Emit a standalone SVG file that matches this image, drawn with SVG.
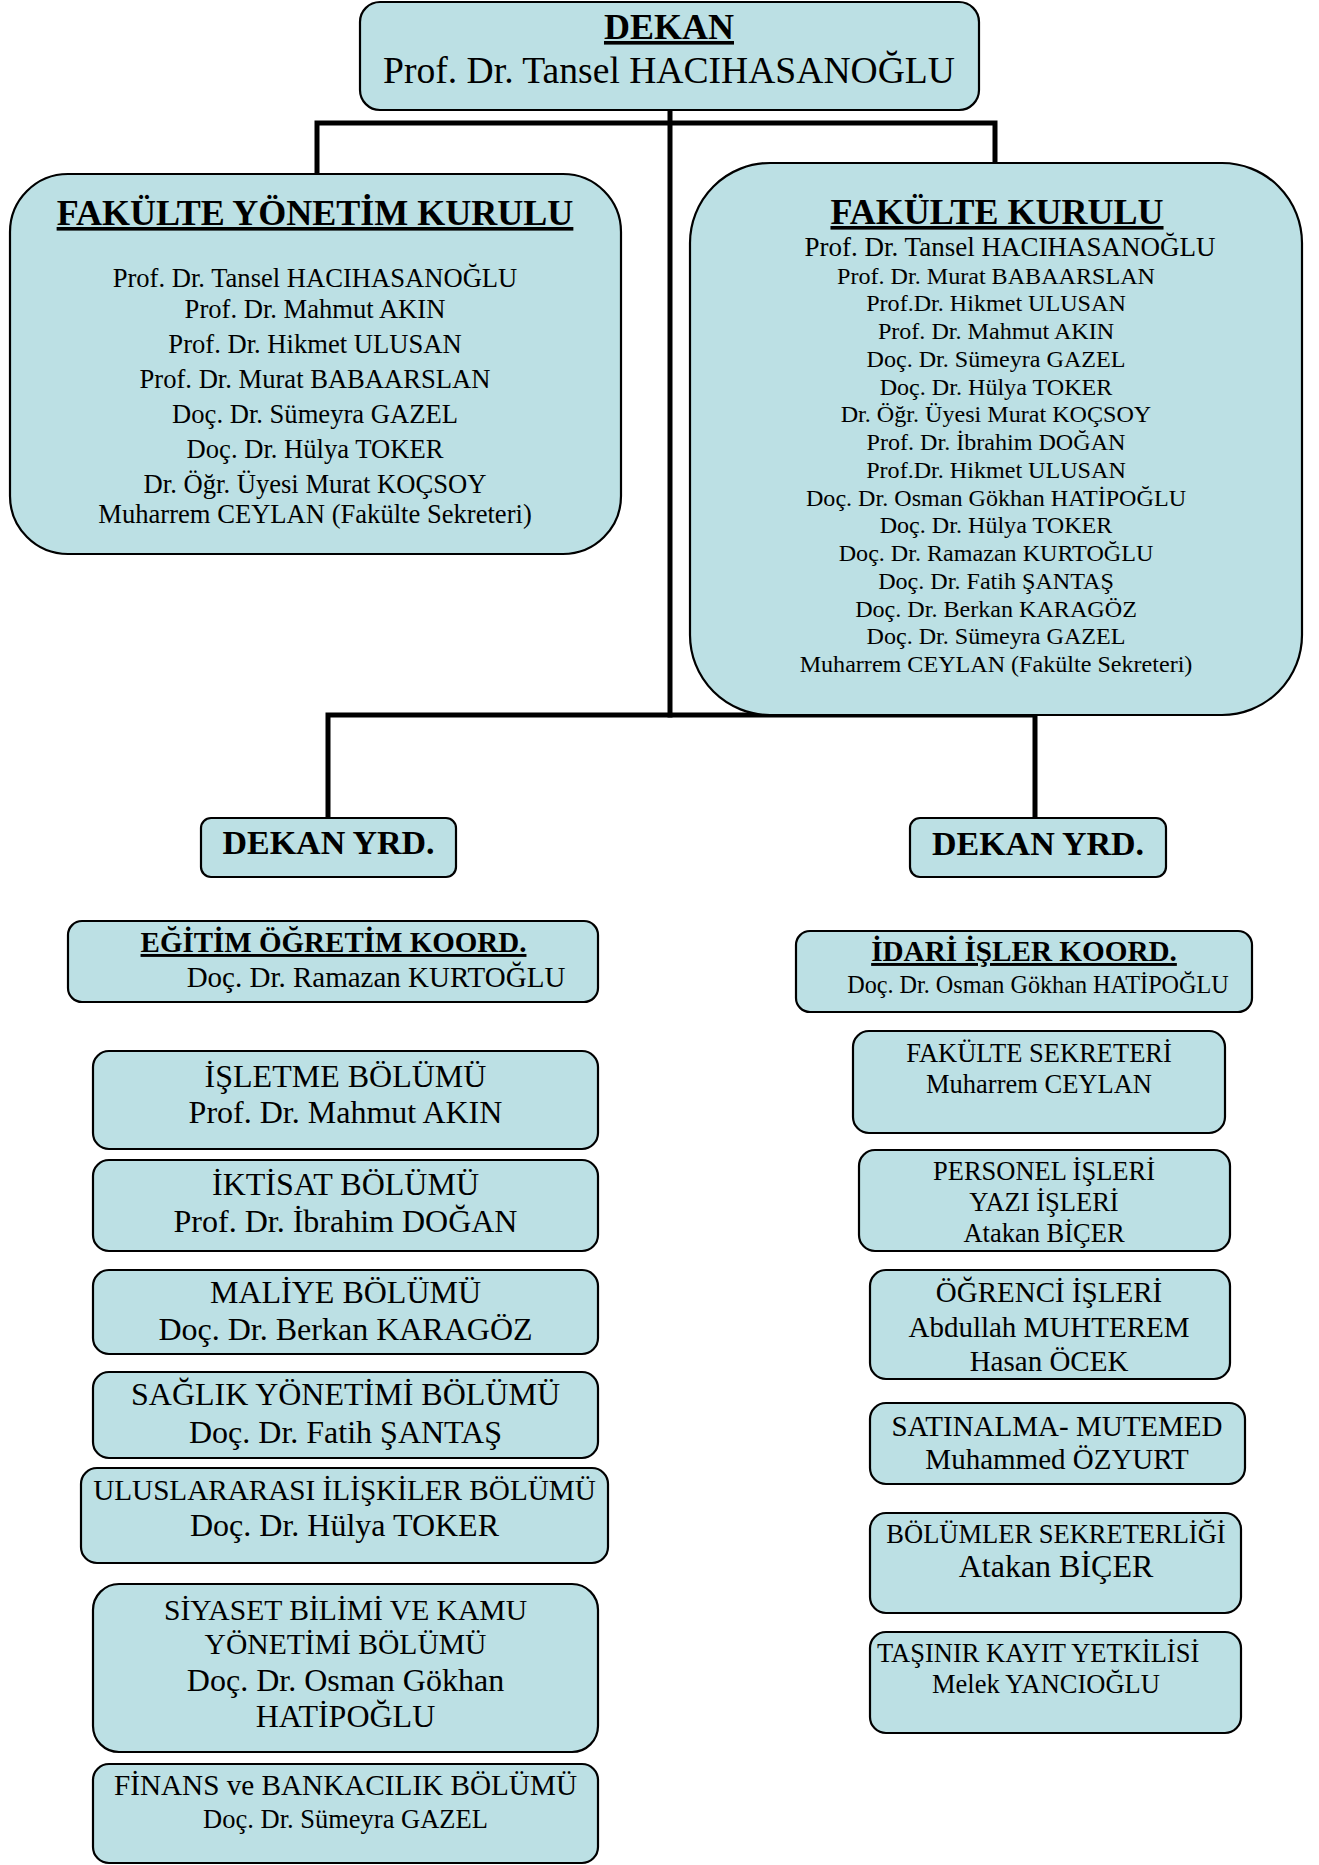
<svg xmlns="http://www.w3.org/2000/svg" width="1319" height="1865" viewBox="0 0 1319 1865">
<style>
.box{fill:#BCE0E4;stroke:#000;stroke-width:2.2}
.t{font-family:"Liberation Serif","Times New Roman",serif;fill:#000;text-anchor:middle}
.s{text-anchor:start}
.b{font-weight:bold}
.u{text-decoration:underline}
.conn{stroke:#000;stroke-width:5;fill:none;stroke-linecap:square}
</style>
<rect width="1319" height="1865" fill="#fff"/>
<g id="connectors">
<line class="conn" x1="670" y1="110" x2="670" y2="715"/>
<polyline class="conn" points="317,175 317,123 995,123 995,163"/>
<polyline class="conn" points="328,818 328,715 1035,715 1035,818"/>
</g>
<g id="dekan">
<rect class="box" x="360" y="2" width="619" height="108" rx="20"/>
<text class="t b u" x="669" y="39" font-size="36">DEKAN</text>
<text class="t" x="669" y="83" font-size="37.6">Prof. Dr. Tansel HACIHASANOĞLU</text>
</g>
<g id="fyk">
<rect class="box" x="10" y="174" width="611" height="380" rx="58"/>
<text class="t b u" x="315" y="225" font-size="36">FAKÜLTE YÖNETİM KURULU</text>
<g class="t" font-size="26.6">
<text x="315" y="287">Prof. Dr. Tansel HACIHASANOĞLU</text>
<text x="315" y="318">Prof. Dr. Mahmut AKIN</text>
<text x="315" y="353">Prof. Dr. Hikmet ULUSAN</text>
<text x="315" y="388">Prof. Dr. Murat BABAARSLAN</text>
<text x="315" y="423">Doç. Dr. Sümeyra GAZEL</text>
<text x="315" y="458">Doç. Dr. Hülya TOKER</text>
<text x="315" y="493">Dr. Öğr. Üyesi Murat KOÇSOY</text>
<text x="315" y="523">Muharrem CEYLAN (Fakülte Sekreteri)</text>
</g>
</g>
<g id="fk">
<rect class="box" x="690" y="163" width="612" height="552" rx="80"/>
<text class="t b u" x="997" y="224" font-size="36">FAKÜLTE KURULU</text>
<g class="t" font-size="24.1">
<text x="1010" y="256" font-size="27">Prof. Dr. Tansel HACIHASANOĞLU</text>
<text x="996" y="284">Prof. Dr. Murat BABAARSLAN</text>
<text x="996" y="311">Prof.Dr. Hikmet ULUSAN</text>
<text x="996" y="339">Prof. Dr. Mahmut AKIN</text>
<text x="996" y="367">Doç. Dr. Sümeyra GAZEL</text>
<text x="996" y="395">Doç. Dr. Hülya TOKER</text>
<text x="996" y="422">Dr. Öğr. Üyesi Murat KOÇSOY</text>
<text x="996" y="450">Prof. Dr. İbrahim DOĞAN</text>
<text x="996" y="478">Prof.Dr. Hikmet ULUSAN</text>
<text x="996" y="506">Doç. Dr. Osman Gökhan HATİPOĞLU</text>
<text x="996" y="533">Doç. Dr. Hülya TOKER</text>
<text x="996" y="561">Doç. Dr. Ramazan KURTOĞLU</text>
<text x="996" y="589">Doç. Dr. Fatih ŞANTAŞ</text>
<text x="996" y="617">Doç. Dr. Berkan KARAGÖZ</text>
<text x="996" y="644">Doç. Dr. Sümeyra GAZEL</text>
<text x="996" y="672">Muharrem CEYLAN (Fakülte Sekreteri)</text>
</g>
</g>
<g id="dekan-yrd-1">
<rect class="box" x="201" y="818" width="255" height="59" rx="10"/>
<text class="t b" x="328.5" y="854" font-size="34">DEKAN YRD.</text>
</g>
<g id="dekan-yrd-2">
<rect class="box" x="910" y="818" width="256" height="59" rx="10"/>
<text class="t b" x="1038" y="855" font-size="34">DEKAN YRD.</text>
</g>
<g id="egitim">
<rect class="box" x="68" y="921" width="530" height="81" rx="14"/>
<text class="t b u" x="333.5" y="952" font-size="29">EĞİTİM ÖĞRETİM KOORD.</text>
<text class="t" x="376" y="987" font-size="29">Doç. Dr. Ramazan KURTOĞLU</text>
</g>
<g id="isletme">
<rect class="box" x="93" y="1051" width="505" height="98" rx="16"/>
<text class="t" x="345.5" y="1087" font-size="32">İŞLETME BÖLÜMÜ</text>
<text class="t" x="345.5" y="1123" font-size="32">Prof. Dr. Mahmut AKIN</text>
</g>
<g id="iktisat">
<rect class="box" x="93" y="1160" width="505" height="91" rx="16"/>
<text class="t" x="345.5" y="1195" font-size="32">İKTİSAT BÖLÜMÜ</text>
<text class="t" x="345.5" y="1232" font-size="32">Prof. Dr. İbrahim DOĞAN</text>
</g>
<g id="maliye">
<rect class="box" x="93" y="1270" width="505" height="84" rx="16"/>
<text class="t" x="345.5" y="1303" font-size="32">MALİYE BÖLÜMÜ</text>
<text class="t" x="345.5" y="1340" font-size="32">Doç. Dr. Berkan KARAGÖZ</text>
</g>
<g id="saglik">
<rect class="box" x="93" y="1372" width="505" height="86" rx="16"/>
<text class="t" x="345.5" y="1405" font-size="32">SAĞLIK YÖNETİMİ BÖLÜMÜ</text>
<text class="t" x="345.5" y="1443" font-size="32">Doç. Dr. Fatih ŞANTAŞ</text>
</g>
<g id="uluslararasi">
<rect class="box" x="81" y="1468" width="527" height="95" rx="16"/>
<text class="t" x="344.5" y="1500" font-size="29.2">ULUSLARARASI İLİŞKİLER BÖLÜMÜ</text>
<text class="t" x="344.5" y="1536" font-size="32">Doç. Dr. Hülya TOKER</text>
</g>
<g id="siyaset">
<rect class="box" x="93" y="1584" width="505" height="168" rx="26"/>
<text class="t" x="345.5" y="1620" font-size="29.6">SİYASET BİLİMİ VE KAMU</text>
<text class="t" x="345.5" y="1654" font-size="29.6">YÖNETİMİ BÖLÜMÜ</text>
<text class="t" x="345.5" y="1691" font-size="32">Doç. Dr. Osman Gökhan</text>
<text class="t" x="345.5" y="1727" font-size="32">HATİPOĞLU</text>
</g>
<g id="finans">
<rect class="box" x="93" y="1764" width="505" height="99" rx="16"/>
<text class="t" x="345.5" y="1795" font-size="29.2">FİNANS ve BANKACILIK BÖLÜMÜ</text>
<text class="t" x="345.5" y="1828" font-size="26.5">Doç. Dr. Sümeyra GAZEL</text>
</g>
<g id="idari">
<rect class="box" x="796" y="931" width="456" height="81" rx="14"/>
<text class="t b u" x="1024" y="961" font-size="29.2">İDARİ İŞLER KOORD.</text>
<text class="t" x="1038" y="993" font-size="24.2">Doç. Dr. Osman Gökhan HATİPOĞLU</text>
</g>
<g id="fakulte-sekreteri">
<rect class="box" x="853" y="1031" width="372" height="102" rx="16"/>
<text class="t" x="1039" y="1062" font-size="26.5">FAKÜLTE SEKRETERİ</text>
<text class="t" x="1039" y="1093" font-size="26.5">Muharrem CEYLAN</text>
</g>
<g id="personel">
<rect class="box" x="859" y="1150" width="371" height="101" rx="16"/>
<text class="t" x="1044" y="1180" font-size="26.5">PERSONEL İŞLERİ</text>
<text class="t" x="1044" y="1211" font-size="26.5">YAZI İŞLERİ</text>
<text class="t" x="1044" y="1242" font-size="26.5">Atakan BİÇER</text>
</g>
<g id="ogrenci">
<rect class="box" x="870" y="1270" width="360" height="109" rx="16"/>
<text class="t" x="1049" y="1302" font-size="29">ÖĞRENCİ İŞLERİ</text>
<text class="t" x="1049" y="1337" font-size="29">Abdullah MUHTEREM</text>
<text class="t" x="1049" y="1371" font-size="29">Hasan ÖCEK</text>
</g>
<g id="satinalma">
<rect class="box" x="870" y="1403" width="375" height="81" rx="16"/>
<text class="t" x="1057" y="1436" font-size="29">SATINALMA- MUTEMED</text>
<text class="t" x="1057" y="1469" font-size="29">Muhammed ÖZYURT</text>
</g>
<g id="bolumler">
<rect class="box" x="870" y="1513" width="371" height="100" rx="16"/>
<text class="t" x="1056" y="1543" font-size="26.5">BÖLÜMLER SEKRETERLİĞİ</text>
<text class="t" x="1056" y="1577" font-size="32">Atakan BİÇER</text>
</g>
<g id="tasinir">
<rect class="box" x="870" y="1632" width="371" height="101" rx="16"/>
<text class="t s" x="877" y="1662" font-size="26.5">TAŞINIR KAYIT YETKİLİSİ</text>
<text class="t" x="1046" y="1693" font-size="26.5">Melek YANCIOĞLU</text>
</g>
</svg>
